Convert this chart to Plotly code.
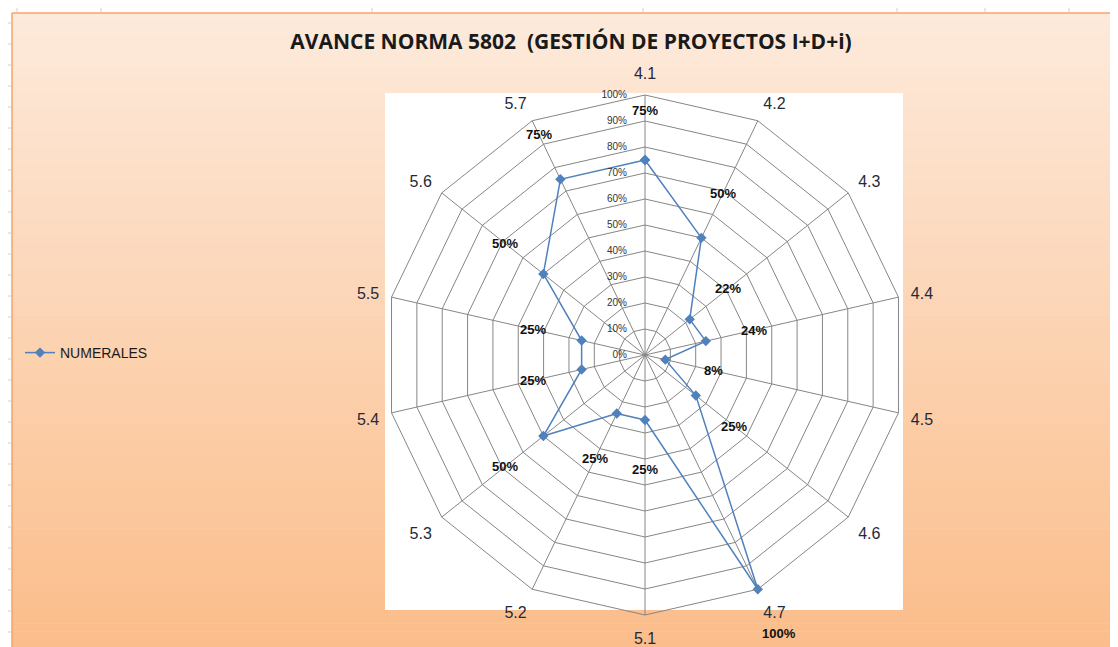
import math
import plotly.graph_objects as go

categories = ["4.1", "4.2", "4.3", "4.4", "4.5", "4.6", "4.7",
              "5.1", "5.2", "5.3", "5.4", "5.5", "5.6", "5.7"]
values = [0.75, 0.50, 0.22, 0.24, 0.08, 0.25, 1.00,
          0.25, 0.25, 0.50, 0.25, 0.25, 0.50, 0.75]
value_labels = ["75%", "50%", "22%", "24%", "8%", "25%", "100%",
                "25%", "25%", "50%", "25%", "25%", "50%", "75%"]
radial_ticks = [0, 0.1, 0.2, 0.3, 0.4, 0.5, 0.6, 0.7, 0.8, 0.9, 1.0]
radial_tick_text = ["0%", "10%", "20%", "30%", "40%", "50%", "60%",
                    "70%", "80%", "90%", "100%"]
series_name = "NUMERALES"
title_text = "AVANCE NORMA 5802  (GESTIÓN DE PROYECTOS I+D+i)"

# the page body adds an 8px margin; figure is sized to fit the window
OFF = 8
W, H = 1118 - OFF, 647 - OFF
LABEL_OFFSET = 0.19
CX, CY, R = 645, 355, 260   # polar centre / radius in window pixels


def px(X):
    return (X - OFF) / W


def py(Y):
    return 1 - (Y - OFF) / H


fig = go.Figure()

fig.add_trace(go.Scatterpolar(
    r=values + values[:1], theta=categories + categories[:1],
    mode="lines+markers", name=series_name,
    line=dict(color="#4f81bd", width=1.5),
    marker=dict(symbol="diamond", size=8, color="#4f81bd"),
    cliponaxis=False,
))

# data labels placed just outside each point along its spoke
annotations = []
n = len(categories)
for i, (v, lab) in enumerate(zip(values, value_labels)):
    ang = 2 * math.pi * i / n
    rr = (v + LABEL_OFFSET) * R
    X = CX + rr * math.sin(ang)
    Y = CY - rr * math.cos(ang)
    annotations.append(dict(x=px(X), y=py(Y), xref="paper", yref="paper",
                            text="<b>" + lab + "</b>", showarrow=False,
                            xanchor="center", yanchor="middle",
                            font=dict(family="Liberation Sans", size=13, color="#111111")))

shapes = []
x0p, y0p = px(12), py(13)
nb = 80
top = (253, 234, 219)
bot = (251, 189, 139)
for i in range(nb):
    t = i / (nb - 1)
    c = tuple(round(top[k] + (bot[k] - top[k]) * t) for k in range(3))
    ya = y0p - y0p * i / nb
    yb = y0p - y0p * (i + 1) / nb
    shapes.append(dict(type="rect", xref="paper", yref="paper", x0=x0p, x1=1,
                       y0=yb - 0.001, y1=ya, fillcolor="rgb(%d,%d,%d)" % c,
                       line=dict(width=0), layer="below"))
shapes.append(dict(type="rect", xref="paper", yref="paper",
                   x0=px(385), x1=px(903), y0=py(610), y1=py(93),
                   fillcolor="white", line=dict(width=0), layer="below"))
shapes.append(dict(type="line", xref="paper", yref="paper", x0=x0p, x1=1, y0=y0p, y1=y0p,
                   line=dict(color="#f4a46a", width=1.5), layer="below"))
shapes.append(dict(type="line", xref="paper", yref="paper", x0=x0p, x1=x0p, y0=0, y1=y0p,
                   line=dict(color="#f4a46a", width=1.5), layer="below"))
for yy in range(23, 647, 21):
    shapes.append(dict(type="line", xref="paper", yref="paper", x0=px(8), x1=px(11),
                       y0=py(yy), y1=py(yy), line=dict(color="#d0d0d0", width=1)))
for xx in [17, 101, 372, 643, 897, 985, 1069]:
    shapes.append(dict(type="line", xref="paper", yref="paper", x0=px(xx), x1=px(xx),
                       y0=py(8), y1=py(12), line=dict(color="#d0d0d0", width=1)))

fig.update_layout(
    width=W, height=H,
    margin=dict(l=0, r=0, t=0, b=0),
    paper_bgcolor="white",
    shapes=shapes,
    annotations=annotations,
    title=dict(text="<b>" + title_text + "</b>", x=px(571), xanchor="center",
               y=py(42), yanchor="middle",
               font=dict(family="Open Sans", size=21, color="#1a1a1a")),
    showlegend=True,
    legend=dict(x=px(20), y=py(353), xanchor="left", yanchor="middle",
                bgcolor="rgba(0,0,0,0)", itemwidth=30,
                font=dict(family="Liberation Sans", size=14, color="#1a1a1a")),
    polar=dict(
        domain=dict(x=[px(385), px(905)], y=[py(615), py(95)]),
        bgcolor="rgba(0,0,0,0)",
        gridshape="linear",
        angularaxis=dict(
            direction="clockwise", rotation=90,
            categoryorder="array", categoryarray=categories,
            showline=True, linecolor="#868686", linewidth=1,
            gridcolor="#868686", gridwidth=1,
            ticks="outside", ticklen=9, tickcolor="rgba(0,0,0,0)",
            tickfont=dict(family="Liberation Sans", size=16, color="#1f2a3a"),
        ),
        radialaxis=dict(
            range=[0, 1], angle=90, tickangle=90,
            tickvals=radial_ticks, ticktext=radial_tick_text,
            showline=False, gridcolor="#868686", gridwidth=1,
            ticks="outside", ticklen=14, tickcolor="rgba(0,0,0,0)",
            side="counterclockwise",
            tickfont=dict(family="Liberation Sans", size=10, color="#333333"),
        ),
    ),
)

fig.write_html("out.html")
